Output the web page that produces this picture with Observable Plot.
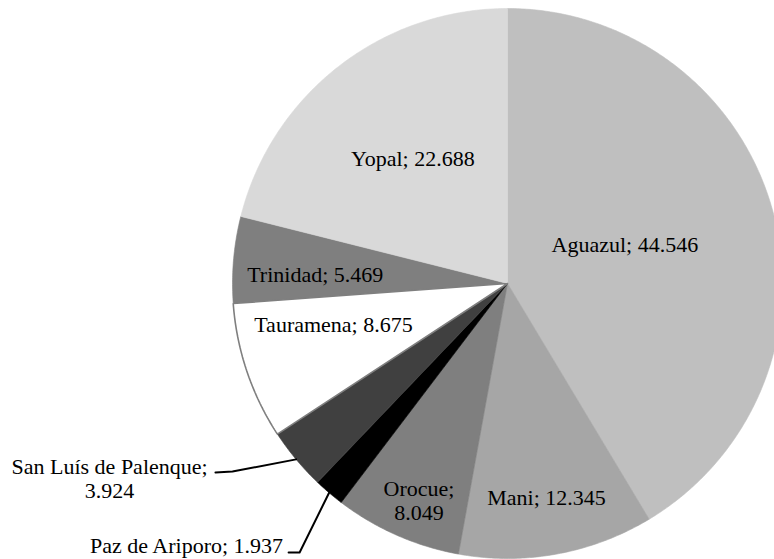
<!DOCTYPE html>
<html>
<head>
<meta charset="utf-8">
<script src="https://cdn.jsdelivr.net/npm/d3@7"></script>
<script src="https://cdn.jsdelivr.net/npm/@observablehq/plot@0.6"></script>
<style>
  html, body { margin: 0; padding: 0; background: #fff; }
  #chart svg { display: block; }
  #chart svg text { font-family: "Liberation Serif", "Times New Roman", Times, "DejaVu Serif", "Noto Serif", serif !important; }
</style>
</head>
<body>
<div id="chart"></div>
<script>
// ---- data ----
const municipios = ["Aguazul", "Mani", "Orocue", "Paz de Ariporo", "San Luís de Palenque", "Tauramena", "Trinidad", "Yopal"];
const valores = [44.546, 12.345, 8.049, 1.937, 3.924, 8.675, 5.469, 22.688];
const valorTexto = ["44.546", "12.345", "8.049", "1.937", "3.924", "8.675", "5.469", "22.688"];
const colores = ["#bfbfbf", "#a6a6a6", "#7f7f7f", "#000000", "#404040", "#ffffff", "#7f7f7f", "#d9d9d9"];
const dosLineas = ["Orocue", "San Luís de Palenque"];

// ---- layout (label placement, not data) ----
const insideLabel = {
  "Aguazul": {r: 0.45, da: -3},
  "Mani": {r: 0.79, da: 0},
  "Orocue": {r: 0.85, da: -1.5},
  "Tauramena": {r: 0.65, da: 5.5},
  "Trinidad": {r: 0.70, da: -2.3},
  "Yopal": {r: 0.57, da: 0.8}
};
const outsideLabel = {
  "Paz de Ariporo": {x: -1.167, y: -0.953, leader: [[-0.756, -0.978], [-0.796, -0.978]]},
  "San Luís de Palenque": {x: -1.447, y: -0.709, leader: [[-1.0, -0.684], [-1.062, -0.687]]}
};

const W = 774, H = 559;
const cx = 507, cy = 283, R = 275;
const SERIF = "'Liberation Serif', 'Times New Roman', Times, 'DejaVu Serif', serif";

const pie = d3.pie().sort(null).startAngle(0).endAngle(2 * Math.PI)(valores);

const pt = (a, r) => ({x: r * Math.sin(a), y: r * Math.cos(a)});

const slices = pie.map((p, i) => {
  const n = Math.max(2, Math.ceil((p.endAngle - p.startAngle) / (Math.PI / 360)));
  const pts = [pt(0, 0)];
  for (let k = 0; k <= n; k++) pts.push(pt(p.startAngle + (p.endAngle - p.startAngle) * k / n, 1));
  pts.push(pt(0, 0));
  return {name: municipios[i], color: colores[i], pts, mid: (p.startAngle + p.endAngle) / 2};
});

const labels = slices.map((s, i) => {
  const sep = dosLineas.includes(s.name) ? ";\n" : "; ";
  const text = s.name + sep + valorTexto[i];
  if (insideLabel[s.name]) {
    const L = insideLabel[s.name];
    const p = pt(s.mid + L.da * Math.PI / 180, L.r);
    return {text, x: p.x, y: p.y};
  }
  const O = outsideLabel[s.name];
  return {text, x: O.x, y: O.y};
});

const leaders = slices.filter(s => outsideLabel[s.name]).map(s => {
  const e = pt(s.mid, 1);
  return [e, ...outsideLabel[s.name].leader.map(([x, y]) => ({x, y}))];
});

const order = slices.filter(s => s.name !== "Tauramena").concat(slices.filter(s => s.name === "Tauramena"));

const marks = order.map(s => Plot.line(s.pts, {
  x: "x", y: "y", curve: "linear",
  fill: s.color,
  stroke: s.name === "Tauramena" ? "#7f7f7f" : s.color,
  strokeWidth: s.name === "Tauramena" ? 1.6 : 0.6,
  strokeLinejoin: "miter"
}));

leaders.forEach(l => marks.push(Plot.line(l, {x: "x", y: "y", stroke: "#000", strokeWidth: 2, curve: "linear"})));

marks.push(Plot.text(labels, {
  x: "x", y: "y", text: "text",
  fontFamily: SERIF,
  fontSize: 22, fill: "#000", lineHeight: 1.1, textAnchor: "middle"
}));

const chart = Plot.plot({
  width: W, height: H,
  margin: 0,
  x: {domain: [(0 - cx) / R, (W - cx) / R], range: [0, W], axis: null},
  y: {domain: [(cy - H) / R, cy / R], range: [H, 0], axis: null},
  style: {background: "#fff", overflow: "hidden", fontFamily: SERIF, fontSize: "22px"},
  marks
});
document.getElementById("chart").appendChild(chart);
</script>
</body>
</html>
